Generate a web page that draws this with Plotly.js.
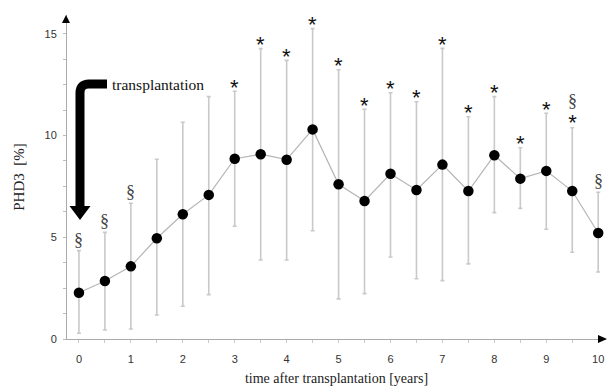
<!DOCTYPE html>
<html><head><meta charset="utf-8">
<script src="https://cdn.plot.ly/plotly-3.0.1.min.js"></script>
<style>html,body{margin:0;padding:0;background:#fff;}#chart{width:615px;height:392px;}</style>
</head><body><div id="chart"></div>
<script>
// ---- data ----
var years = [0,0.5,1,1.5,2,2.5,3,3.5,4,4.5,5,5.5,6,6.5,7,7.5,8,8.5,9,9.5,10];
var phd3  = [2.27,2.85,3.57,4.95,6.13,7.08,8.86,9.08,8.81,10.30,7.60,6.78,8.12,7.32,8.57,7.27,9.03,7.88,8.26,7.27,5.21];
var upper = [4.34,5.24,6.67,8.83,10.65,11.91,12.17,14.27,13.69,15.25,13.23,11.29,12.10,11.66,14.28,10.92,11.91,9.40,11.09,10.38,7.21];
var lower = [0.28,0.44,0.49,1.18,1.61,2.18,5.54,3.88,3.88,5.32,1.97,2.23,4.03,2.96,2.87,3.69,6.21,6.42,5.39,4.26,3.29];
var starMark = [0,0,0,0,0,0,1,1,1,1,1,1,1,1,1,1,1,1,1,1,0];
var sectMark = [1,1,1,0,0,0,0,0,0,0,0,0,0,0,0,0,0,0,0,1,1];
var xTickVals = [0,0.5,1,1.5,2,2.5,3,3.5,4,4.5,5,5.5,6,6.5,7,7.5,8,8.5,9,9.5,10];
var yTickVals = [0,1.25,2.5,3.75,5,6.25,7.5,8.75,10,11.25,12.5,13.75,15];
var arrowLabel = "transplantation";

// ---- layout geometry ----
var W = 615, H = 392, mL = 67, mR = 9, mT = 15, mB = 53;
var pw = W - mL - mR, ph = H - mT - mB;
function px(x){ return ((x - mL) / pw).toFixed(4); }
function py(y){ return (1 - (y - mT) / ph).toFixed(4); }

var errPlus = upper.map(function(u,i){ return u - phd3[i]; });
var errMinus = lower.map(function(l,i){ return phd3[i] - l; });

var trace = {
  x: years, y: phd3, type: 'scatter', mode: 'lines+markers',
  line: {color: '#b5b5b5', width: 1.2},
  marker: {color: '#000', size: 10.5},
  error_y: {type: 'data', symmetric: false, array: errPlus, arrayminus: errMinus,
            color: '#c9c9c9', thickness: 1.6, width: 2},
  cliponaxis: false, hoverinfo: 'skip'
};

var serif = 'Liberation Serif, Times New Roman, serif';
var sans = 'Liberation Sans, Arial, sans-serif';
var annotations = [];
years.forEach(function(t,i){
  if (starMark[i] && sectMark[i]) {
    annotations.push({x: t, y: upper[i], xref: 'x', yref: 'y',
      text: '§<br><span style="font-family:' + sans + ';font-size:22px;color:#111">*</span>',
      showarrow: false, yanchor: 'bottom', yshift: -9,
      font: {family: serif, size: 18, color: '#444'}});
  } else if (starMark[i]) {
    annotations.push({x: t, y: upper[i], xref: 'x', yref: 'y', text: '*',
      showarrow: false, yanchor: 'middle', yshift: 4,
      font: {family: sans, size: 22, color: '#111'}});
  } else if (sectMark[i]) {
    annotations.push({x: t, y: upper[i], xref: 'x', yref: 'y', text: '§',
      showarrow: false, yanchor: 'middle', yshift: 11,
      font: {family: serif, size: 18, color: '#444'}});
  }
});
annotations.push({xref: 'paper', yref: 'paper', x: px(110), y: py(84), xanchor: 'left', yanchor: 'middle',
  text: arrowLabel, showarrow: false,
  font: {family: serif, size: 15.5, color: '#111'}});

var shapes = [
  // transplantation arrow shaft
  {type: 'path', xref: 'paper', yref: 'paper',
   path: 'M ' + px(107) + ',' + py(84) + ' L ' + px(89) + ',' + py(84) +
         ' Q ' + px(80) + ',' + py(84) + ' ' + px(80) + ',' + py(93) +
         ' L ' + px(80) + ',' + py(208),
   line: {color: '#000', width: 9}},
  {type: 'path', xref: 'paper', yref: 'paper',
   path: 'M ' + px(69.5) + ',' + py(206) + ' L ' + px(90.5) + ',' + py(206) + ' L ' + px(80) + ',' + py(220) + ' Z',
   fillcolor: '#000', line: {width: 0}},
  // axis arrowheads
  {type: 'path', xref: 'paper', yref: 'paper',
   path: 'M ' + px(66) + ',' + py(15) + ' L ' + px(62) + ',' + py(23) + ' L ' + px(70) + ',' + py(23) + ' Z',
   fillcolor: '#000', line: {width: 0}},
  {type: 'path', xref: 'paper', yref: 'paper',
   path: 'M ' + px(607) + ',' + py(339) + ' L ' + px(598) + ',' + py(335) + ' L ' + px(598) + ',' + py(343) + ' Z',
   fillcolor: '#000', line: {width: 0}}
];

var layout = {
  width: W, height: H, margin: {l: mL, r: mR, t: mT, b: mB},
  paper_bgcolor: '#fff', plot_bgcolor: '#fff', showlegend: false,
  xaxis: {range: [-0.23, 10.15], showgrid: false, zeroline: false, showline: true, linecolor: '#aaa', linewidth: 1,
          ticks: 'outside', ticklen: 3, tickcolor: '#ccc', tickvals: xTickVals,
          ticktext: xTickVals.map(function(v){ return v % 1 === 0 ? String(v) : ''; }),
          ticklabelstandoff: 7,
          tickfont: {family: sans, size: 11, color: '#333'},
          title: {text: 'time after transplantation [years]', standoff: 8,
                  font: {family: serif, size: 14, color: '#222'}}},
  yaxis: {range: [0, 15.92], showgrid: false, zeroline: false, showline: true, linecolor: '#aaa', linewidth: 1,
          ticks: 'outside', ticklen: 3, tickcolor: '#bbb', tickvals: yTickVals,
          ticktext: yTickVals.map(function(v){ return v % 5 === 0 ? String(v) : ''; }),
          ticklabelstandoff: 4,
          tickfont: {family: sans, size: 11, color: '#333'},
          title: {text: 'PHD3  [%]', standoff: 16,
                  font: {family: serif, size: 15, color: '#222'}}},
  annotations: annotations, shapes: shapes
};

Plotly.newPlot('chart', [trace], layout, {displayModeBar: false, staticPlot: true});
</script>
</body></html>
